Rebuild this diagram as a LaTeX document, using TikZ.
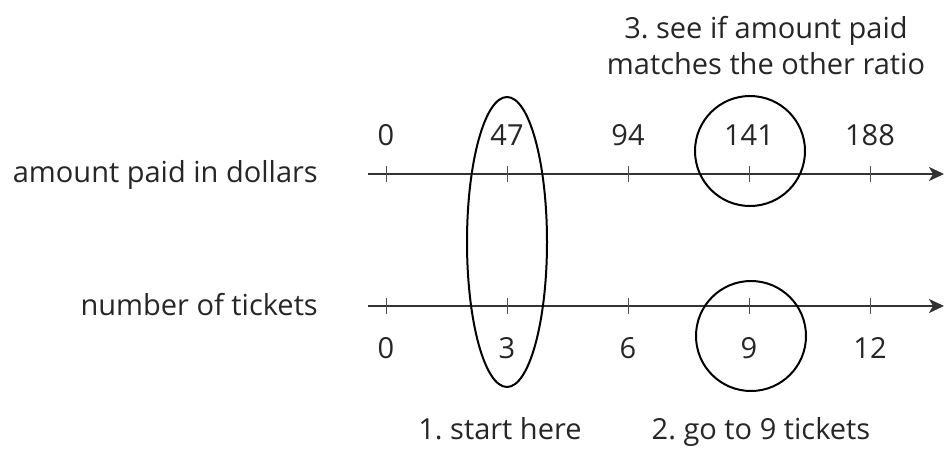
\documentclass[tikz,border=0pt]{standalone}
\usepackage{fontspec}
\setmainfont{Open Sans}
\usetikzlibrary{arrows.meta, positioning}
\frenchspacing

\begin{document}
\begin{tikzpicture}[
  x=1pt, y=-1pt,
  every node/.style={text=black!85, font=\fontsize{29}{36}\selectfont, inner sep=0pt},
  axis/.style={draw=black!80, line width=2pt, -{Stealth[length=15pt, width=14pt, inset=4pt]}},
  tick/.style={draw=black!70, line width=1pt},
  ring/.style={draw=black, line width=2pt},
  num/.style={anchor=base},
  label/.style={anchor=base east}
]
\useasboundingbox (0,0) rectangle (946,448);

% the two number lines
\coordinate (dstart) at (368,174);
\coordinate (dend) at (944,174);
\coordinate (tstart) at (368,306);
\coordinate (tend) at (944,306);
\draw[axis] (dstart) -- (dend);
\draw[axis] (tstart) -- (tend);

\node[label] (dollars) at (318,182) {amount paid in dollars};
\node[label] (tickets) at (318,315) {number of tickets};

% ticks and numbers
\foreach \i/\d/\t in {0/0/0, 1/47/3, 2/94/6, 3/141/9, 4/188/12} {
  \draw[tick] (386+121*\i,166) -- (386+121*\i,182);
  \draw[tick] (386+121*\i,298) -- (386+121*\i,314);
  \node[num] (d\i) at (386+121*\i,145) {\d};
  \node[num] (t\i) at (386+121*\i,358) {\t};
}

% highlights
\draw[ring] (507,242) ellipse [x radius=40, y radius=145];
\draw[ring] (750,151) circle [radius=55];
\draw[ring] (751,336) circle [radius=55];

\node[align=center] (step3) at (766,46) {3. see if amount paid\\matches the other ratio};
\node[num] (step1) at (500,439) {1. start here};
\node[num] (step2) at (761,439) {2. go to 9 tickets};
\end{tikzpicture}
\end{document}
